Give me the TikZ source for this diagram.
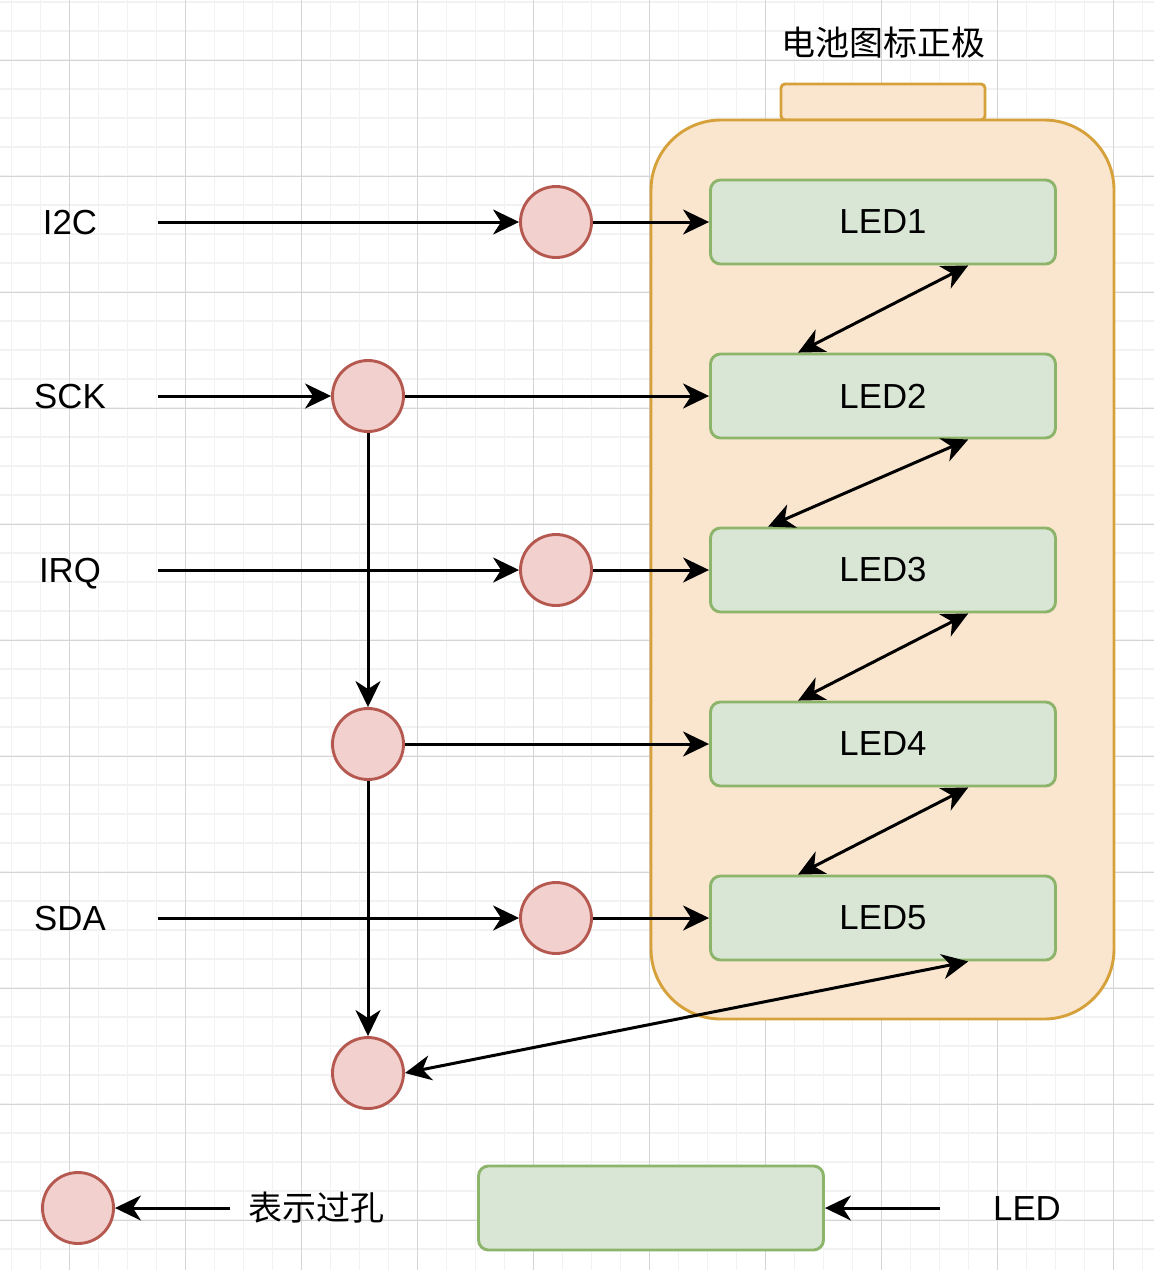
\documentclass[tikz,border=0pt]{standalone}
\usepackage{fontspec}
\setmainfont{Liberation Sans}
\newfontfamily\cjk{Noto Sans CJK SC}
\usetikzlibrary{arrows.meta,calc}
\definecolor{gridminor}{HTML}{F2F2F2}
\definecolor{gridmajor}{HTML}{D4D4D4}
\definecolor{batfill}{HTML}{FAE6CF}
\definecolor{batline}{HTML}{D6A13A}
\definecolor{ledfill}{HTML}{D9E6D5}
\definecolor{ledline}{HTML}{8DB46B}
\definecolor{viafill}{HTML}{F2D0CD}
\definecolor{vialine}{HTML}{B5584F}
\tikzset{
  via/.style={circle, draw=vialine, fill=viafill, line width=2.9pt, minimum size=71pt, inner sep=0pt},
  ledbox/.style={rectangle, rounded corners=10pt, draw=ledline, fill=ledfill, line width=2.9pt,
    minimum width=345pt, minimum height=84pt, inner sep=0pt, font=\fontsize{34.8}{40}\selectfont},
  lbl/.style={font=\fontsize{34.8}{40}\selectfont, inner sep=0pt, text height=25pt, text depth=0pt},
  cjklbl/.style={font=\cjk\fontsize{34}{40}\selectfont, inner sep=0pt},
  conn/.style={line width=3pt, -{Stealth[length=26pt,width=25pt,inset=8pt]}},
  biconn/.style={line width=3pt, {Stealth[length=26pt,width=25pt,inset=8pt]}-{Stealth[length=26pt,width=25pt,inset=8pt]}},
}
\begin{document}
\begin{tikzpicture}[x=1pt,y=-1pt]
\useasboundingbox (0,0) rectangle (1154,1270);
\fill[white] (0,0) rectangle (1154,1270);
% grid
\foreach \i in {0,...,39} {
  \draw[gridminor, line width=1.5pt] ({11.5+29*\i},0) -- ({11.5+29*\i},1270);
}
\foreach \i in {0,...,43} {
  \draw[gridminor, line width=1.5pt] (0,{2+29*\i}) -- (1154,{2+29*\i});
}
\foreach \i in {0,...,9} {
  \draw[gridmajor, line width=1pt] ({69.5+116*\i},0) -- ({69.5+116*\i},1270);
}
\foreach \i in {0,...,10} {
  \draw[gridmajor, line width=1pt] (0,{60+116*\i}) -- (1154,{60+116*\i});
}
% battery
\draw[batline, fill=batfill, line width=2.9pt, rounded corners=4pt] (781,84) rectangle (985,120);
\draw[batline, fill=batfill, line width=2.9pt, rounded corners=70pt] (651,120) rectangle (1114,1019);
\node[cjklbl] (title) at (883,43) {电池图标正极};
% LEDs
\node[ledbox] (led1) at (883,222) {LED1};
\node[ledbox] (led2) at (883,396) {LED2};
\node[ledbox] (led3) at (883,570) {LED3};
\node[ledbox] (led4) at (883,744) {LED4};
\node[ledbox] (led5) at (883,918) {LED5};
% vias
\node[via] (v1) at (556,222) {};
\node[via] (v2) at (368,396) {};
\node[via] (v3) at (556,570) {};
\node[via] (v4) at (368,744) {};
\node[via] (v5) at (556,918) {};
\node[via] (v6) at (368,1073) {};
% labels
\node[lbl] (i2c) at (70,222) {I2C};
\node[lbl] (sck) at (70,396) {SCK};
\node[lbl] (irq) at (70,570) {IRQ};
\node[lbl] (sda) at (70,918) {SDA};
\coordinate (s1) at (158,222);
\coordinate (s2) at (158,396);
\coordinate (s3) at (158,570);
\coordinate (s5) at (158,918);
% connectors
\draw[conn] (s1) -- (v1);
\draw[conn] (v1) -- (led1);
\draw[conn] (s2) -- (v2);
\draw[conn] (v2) -- (led2.west);
\draw[conn] (v2) -- (v4);
\draw[conn] (s3) -- (v3);
\draw[conn] (v3) -- (led3);
\draw[conn] (v4) -- (led4.west);
\draw[conn] (v4) -- (v6);
\draw[conn] (s5) -- (v5);
\draw[conn] (v5) -- (led5);
\draw[biconn] ($(led1.south west)!0.745!(led1.south east)$) -- ($(led2.north west)!0.256!(led2.north east)$);
\draw[biconn] ($(led2.south west)!0.745!(led2.south east)$) -- ($(led3.north west)!0.17!(led3.north east)$);
\draw[biconn] ($(led3.south west)!0.745!(led3.south east)$) -- ($(led4.north west)!0.256!(led4.north east)$);
\draw[biconn] ($(led4.south west)!0.745!(led4.south east)$) -- ($(led5.north west)!0.256!(led5.north east)$);
\draw[biconn] ($(led5.south west)!0.745!(led5.south east)$) -- (v6.east);
% legend
\node[via] (lv) at (78,1208) {};
\node[cjklbl] (lvtext) at (316,1208) {表示过孔};
\coordinate (la) at (230,1208);
\draw[conn] (la) -- (lv);
\node[ledbox] (lled) at (651,1208) {};
\node[lbl] (lledtext) at (1027,1208) {LED};
\coordinate (lb) at (940,1208);
\draw[conn] (lb) -- (lled);
\end{tikzpicture}
\end{document}
